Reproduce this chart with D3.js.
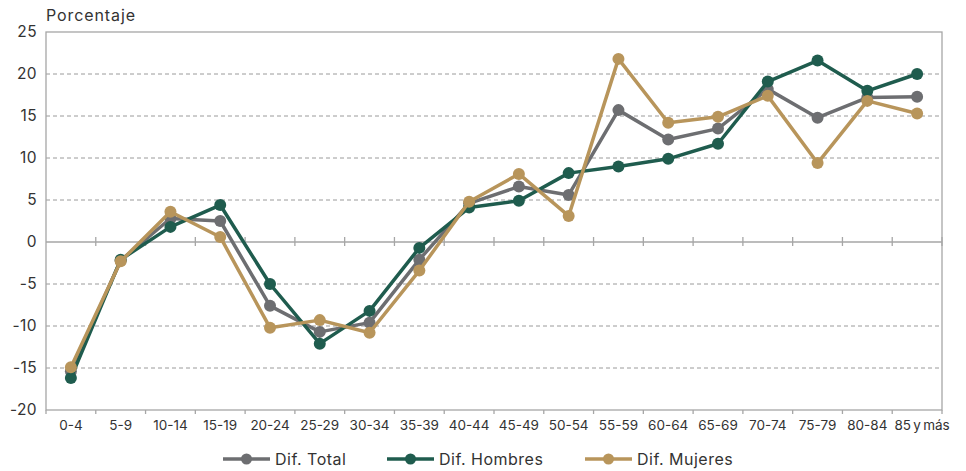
<!DOCTYPE html>
<html>
<head>
<meta charset="utf-8">
<script src="https://cdn.jsdelivr.net/npm/d3@7"></script>
<style>
  body { margin: 0; background: #fff; }
  svg { display: block; }
</style>
</head>
<body>
<div id="chart"></div>
<script>
// Categories and series values
const ageGroups = ["0-4", "5-9", "10-14", "15-19", "20-24", "25-29", "30-34", "35-39", "40-44",
  "45-49", "50-54", "55-59", "60-64", "65-69", "70-74", "75-79", "80-84", "85 y más"];
const difTotal = [-15.4, -2.2, 2.8, 2.5, -7.6, -10.7, -9.6, -2.1, 4.6, 6.6, 5.6, 15.7, 12.2, 13.5, 18.2, 14.8, 17.2, 17.3];
const difHombres = [-16.2, -2.1, 1.8, 4.4, -5.0, -12.1, -8.2, -0.7, 4.1, 4.9, 8.2, 9.0, 9.9, 11.7, 19.1, 21.6, 18.0, 20.0];
const difMujeres = [-14.9, -2.3, 3.6, 0.6, -10.2, -9.3, -10.8, -3.4, 4.8, 8.1, 3.1, 21.8, 14.2, 14.9, 17.4, 9.4, 16.8, 15.3];
const yTicks = [-20, -15, -10, -5, 0, 5, 10, 15, 20, 25];

const series = [
  { name: "Dif. Total", values: difTotal, color: "#6d6e71" },
  { name: "Dif. Hombres", values: difHombres, color: "#1f5c4e" },
  { name: "Dif. Mujeres", values: difMujeres, color: "#b8955b" }
];

const width = 966, height = 471;
const margin = { top: 32, right: 24, bottom: 61, left: 46 };
const font = "Inter, 'Open Sans', sans-serif";

const svg = d3.select("#chart").append("svg")
  .attr("width", width).attr("height", height)
  .attr("font-family", font);

const x = d3.scaleBand().domain(ageGroups)
  .range([margin.left, width - margin.right]);
const y = d3.scaleLinear().domain([-20, 25])
  .range([height - margin.bottom, margin.top]);

const axisColor = "#a6a6a6";
const textColor = "#333";

// dashed gridlines
svg.append("g")
  .selectAll("line")
  .data(yTicks.filter(t => t !== 0 && t !== 25 && t !== -20))
  .join("line")
  .attr("x1", margin.left).attr("x2", width - margin.right)
  .attr("y1", d => y(d)).attr("y2", d => y(d))
  .attr("stroke", "#9a9a9a").attr("stroke-width", 1)
  .attr("stroke-dasharray", "4,3");

// frame
svg.append("rect")
  .attr("x", margin.left).attr("y", y(25))
  .attr("width", width - margin.right - margin.left)
  .attr("height", y(-20) - y(25))
  .attr("fill", "none").attr("stroke", axisColor).attr("stroke-width", 1.3);

// y axis labels
svg.append("g")
  .selectAll("text")
  .data(yTicks)
  .join("text")
  .attr("x", margin.left - 9).attr("y", d => y(d))
  .attr("dy", "0.35em").attr("text-anchor", "end")
  .attr("font-size", 15.5).attr("letter-spacing", 0.4).attr("fill", textColor)
  .text(d => d);

svg.append("text")
  .attr("x", margin.left).attr("y", 21)
  .attr("font-size", 16).attr("letter-spacing", 0.9).attr("fill", textColor)
  .text("Porcentaje");

// category ticks on zero line and bottom
const bounds = ageGroups.map(d => x(d)).slice(1).concat([x.range()[1]]);
svg.append("line")
  .attr("x1", margin.left).attr("x2", width - margin.right)
  .attr("y1", y(0)).attr("y2", y(0))
  .attr("stroke", axisColor).attr("stroke-width", 1.3);
svg.append("g").selectAll("line")
  .data(bounds)
  .join("line")
  .attr("x1", d => d).attr("x2", d => d)
  .attr("y1", y(0) - 5).attr("y2", y(0) + 4)
  .attr("stroke", axisColor).attr("stroke-width", 1.3);
svg.append("g").selectAll("line")
  .data([margin.left].concat(bounds))
  .join("line")
  .attr("x1", d => d).attr("x2", d => d)
  .attr("y1", y(-20)).attr("y2", y(-20) + 4)
  .attr("stroke", axisColor).attr("stroke-width", 1.3);

const lastGroup = ageGroups[ageGroups.length - 1];
svg.append("g").selectAll("text")
  .data(ageGroups)
  .join("text")
  .attr("x", d => x(d) + x.bandwidth() / 2)
  .attr("y", y(-20) + 20)
  .attr("dx", d => d === lastGroup ? 5 : 0)
  .attr("text-anchor", "middle")
  .attr("font-size", 13.5).attr("fill", textColor)
  .attr("word-spacing", d => d === lastGroup ? -1.5 : 0)
  .text(d => d);

// lines and markers
const line = d3.line()
  .x((d, i) => x(ageGroups[i]) + x.bandwidth() / 2)
  .y(d => y(d));

const g = svg.append("g");
series.forEach(s => {
  g.append("path")
    .attr("d", line(s.values))
    .attr("fill", "none").attr("stroke", s.color)
    .attr("stroke-width", 3.5).attr("stroke-linejoin", "round");
  g.append("g").selectAll("circle")
    .data(s.values)
    .join("circle")
    .attr("cx", (d, i) => x(ageGroups[i]) + x.bandwidth() / 2)
    .attr("cy", d => y(d))
    .attr("r", 6)
    .attr("fill", s.color);
});

// legend
const legendX = [223, 387, 585];
const legend = svg.append("g").selectAll("g")
  .data(series)
  .join("g")
  .attr("transform", (d, i) => `translate(${legendX[i]},459)`);
legend.append("line")
  .attr("x1", 0).attr("x2", 47)
  .attr("stroke", d => d.color).attr("stroke-width", 3.5);
legend.append("circle")
  .attr("cx", 23.5).attr("r", 5.5).attr("fill", d => d.color);
legend.append("text")
  .attr("x", 52).attr("dy", "0.35em")
  .attr("font-size", 16).attr("letter-spacing", 0.5).attr("fill", textColor)
  .text(d => d.name);
</script>
</body>
</html>
